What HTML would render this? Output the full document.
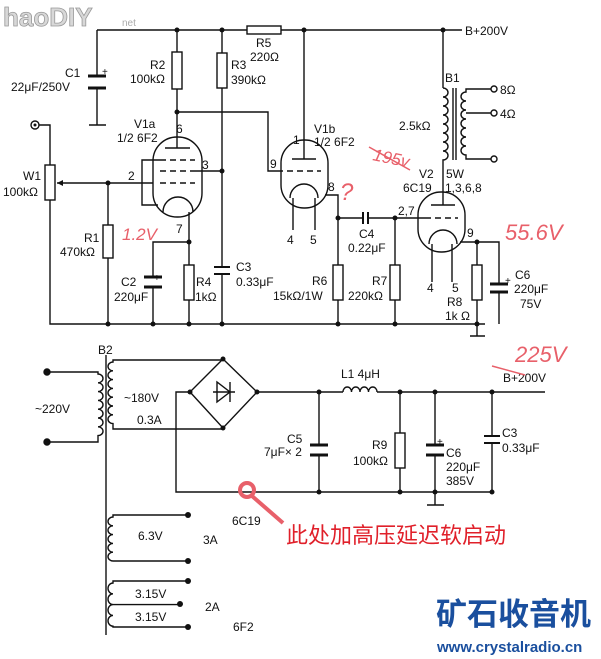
<!DOCTYPE html>
<html><head><meta charset="utf-8"><style>
html,body{margin:0;padding:0;background:#fff}
svg{display:block}
text{font-family:"Liberation Sans",Arial,sans-serif;font-size:12px;fill:#111}
.r{fill:#e8606a;font-style:italic;font-size:17px}
</style></head><body>
<svg width="601" height="659" viewBox="0 0 601 659" xmlns="http://www.w3.org/2000/svg">
<g stroke="#111" stroke-width="1.4" fill="none">
<!-- top rail -->
<path d="M97 30H247M281 30H462"/>
<rect x="247" y="26" width="34" height="8"/>
<!-- C1 -->
<path d="M97 30V76M97 88V125M89 125H106"/>
<path d="M88 76H106M88 88H106" stroke-width="3"/>
<!-- R2 R3 -->
<path d="M177 30V52M177 89V148"/>
<rect x="172" y="52" width="10" height="37"/>
<path d="M222 30V53M222 88V267M222 274V324"/>
<rect x="217" y="53" width="10" height="35"/>
<path d="M214 267H230M214 274H230" stroke-width="2"/>
<!-- to V1b grid -->
<path d="M177 112H268V171H283"/>
<!-- V1a -->
<rect x="153" y="137" width="49" height="80" rx="24"/>
<path d="M165 148H190"/>
<path d="M160 160H195M160 171H195M160 183H195" stroke-dasharray="6,4"/>
<path d="M195 171H222"/>
<path d="M160 160H142V205H158"/>
<path d="M163 212A15 15 0 0 1 193 212"/>
<path d="M189 212V242H153V277M153 287V324M189 242V265M189 300V324"/>
<path d="M144 277H162M144 287H162" stroke-width="3"/>
<rect x="184" y="265" width="10" height="35"/>
<!-- W1 input -->
<circle cx="35" cy="125" r="4"/>
<path d="M39 125H50V165M50 200V324H485"/>
<rect x="45" y="165" width="10" height="35"/>
<path d="M57 183H153"/>
<path d="M108 183V225M108 258V324"/>
<rect x="103" y="225" width="10" height="33"/>
<!-- V1b -->
<path d="M304 30V159"/>
<rect x="281" y="140" width="47" height="68" rx="23"/>
<path d="M292 159H316"/>
<path d="M287 171H321" stroke-dasharray="6,4"/>
<path d="M290 198A14 14 0 0 1 318 198"/>
<path d="M293 198V230M315 198V230"/>
<path d="M325 195H338V265M338 300V324M338 218H363M368 218H395V265M395 300V324M395 218H425"/>
<path d="M363 212V224M368 212V224" stroke-width="2"/>
<rect x="333" y="265" width="10" height="35"/>
<rect x="390" y="265" width="10" height="35"/>
<!-- V2 -->
<rect x="418" y="192" width="47" height="60" rx="23"/>
<path d="M431 205H455"/>
<path d="M425 218H458" stroke-dasharray="6,4"/>
<path d="M429 244A14 14 0 0 1 457 244"/>
<path d="M432 244V282M452 244V282"/>
<path d="M460 242H499V284M499 292V324M477 242V265M477 300V324"/>
<rect x="472" y="265" width="10" height="35"/>
<path d="M490 284H508M490 292H508" stroke-width="3"/>
<!-- B1 -->
<path d="M443 30V88"/>
<path d="M443 88a5 4.5 0 0 1 0 9a5 4.5 0 0 1 0 9a5 4.5 0 0 1 0 9a5 4.5 0 0 1 0 9a5 4.5 0 0 1 0 9a5 4.5 0 0 1 0 9a5 4.5 0 0 1 0 9a5 4.5 0 0 1 0 9V205"/>
<path d="M453 88V160M456 88V160"/>
<path d="M491 89H466V92a5 4.5 0 0 0 0 9a5 4.5 0 0 0 0 9a5 4.5 0 0 0 0 9a5 4.5 0 0 0 0 9a5 4.5 0 0 0 0 9a5 4.5 0 0 0 0 9a5 4.5 0 0 0 0 9V159H491M466 113H491"/>
<circle cx="494" cy="89" r="3"/><circle cx="494" cy="113" r="3"/><circle cx="494" cy="159" r="3"/>
<!-- ground at V2 bottom -->
<path d="M477 324V336M470 336H485" stroke-width="1.4"/>
<!-- lower: B2 -->
<circle cx="47" cy="372" r="3" fill="#111"/><circle cx="47" cy="442" r="3" fill="#111"/>
<path d="M47 372H98V374a5 4.4 0 0 1 0 8.8a5 4.4 0 0 1 0 8.8a5 4.4 0 0 1 0 8.8a5 4.4 0 0 1 0 8.8a5 4.4 0 0 1 0 8.8a5 4.4 0 0 1 0 8.8a5 4.4 0 0 1 0 8.8V442H47"/>
<path d="M106 355V635"/>
<path d="M223 360H113V362a5 4.4 0 0 0 0 8.8a5 4.4 0 0 0 0 8.8a5 4.4 0 0 0 0 8.8a5 4.4 0 0 0 0 8.8a5 4.4 0 0 0 0 8.8a5 4.4 0 0 0 0 8.8a5 4.4 0 0 0 0 8.8V429H223"/>
<path d="M223 359L257 392L223 428L190 392Z"/>
<path d="M213 392H235M217 382V402L230 392Z M230 382V402"/>
<path d="M190 392H176V492H492M257 392H343M377 392H545"/>
<path d="M343 392a4.25 5 0 0 1 8.5 0a4.25 5 0 0 1 8.5 0a4.25 5 0 0 1 8.5 0a4.25 5 0 0 1 8.5 0"/>
<path d="M319 392V445M319 455V492M400 392V433M400 468V492M435 392V445M435 455V505M427 505H444M492 392V436M492 443V492"/>
<path d="M310 445H328M310 455H328M426 445H444M426 455H444" stroke-width="3"/>
<path d="M484 436H500M484 443H500" stroke-width="2"/>
<rect x="395" y="433" width="10" height="35"/>
<!-- heater windings -->
<path d="M188 515H113V517a5 4.4 0 0 0 0 8.8a5 4.4 0 0 0 0 8.8a5 4.4 0 0 0 0 8.8a5 4.4 0 0 0 0 8.8a5 4.4 0 0 0 0 8.8V561H188"/>
<path d="M188 581H113V583a5 5.4 0 0 0 0 10.8a5 5.4 0 0 0 0 10.8H180M113 604.6a5 5.4 0 0 0 0 10.8a5 5.4 0 0 0 0 10.8V627H188"/>
</g>
<g fill="#111">
<circle cx="177" cy="30" r="2.5"/><circle cx="222" cy="30" r="2.5"/><circle cx="304" cy="30" r="2.5"/><circle cx="443" cy="30" r="2.5"/>
<circle cx="177" cy="112" r="2.5"/><circle cx="222" cy="171" r="2.5"/><circle cx="108" cy="183" r="2.5"/><circle cx="189" cy="242" r="2.5"/>
<circle cx="108" cy="324" r="2.5"/><circle cx="153" cy="324" r="2.5"/><circle cx="189" cy="324" r="2.5"/><circle cx="222" cy="324" r="2.5"/>
<circle cx="338" cy="324" r="2.5"/><circle cx="395" cy="324" r="2.5"/><circle cx="477" cy="324" r="2.5"/>
<circle cx="338" cy="218" r="2.5"/><circle cx="395" cy="218" r="2.5"/><circle cx="477" cy="242" r="2.5"/>
<path d="M57 183l6 -3v6z"/>
<circle cx="35" cy="125" r="1.5"/>
<circle cx="223" cy="359" r="2.5"/><circle cx="223" cy="428" r="2.5"/><circle cx="190" cy="392" r="2.5"/><circle cx="257" cy="392" r="2.5"/>
<circle cx="319" cy="392" r="2.5"/><circle cx="400" cy="392" r="2.5"/><circle cx="435" cy="392" r="2.5"/><circle cx="492" cy="392" r="2.5"/>
<circle cx="319" cy="492" r="2.5"/><circle cx="400" cy="492" r="2.5"/><circle cx="435" cy="492" r="2.5"/><circle cx="492" cy="492" r="2.5"/>
<circle cx="188" cy="515" r="3"/><circle cx="188" cy="561" r="3"/><circle cx="188" cy="581" r="3"/><circle cx="180" cy="604" r="3"/><circle cx="188" cy="627" r="3"/>
</g>
<!-- labels -->
<text x="3" y="26" style="font-size:26px;font-weight:bold;fill:#d8d8d8;stroke:#999;stroke-width:0.8">haoDIY</text>
<text x="122" y="26" style="font-size:10px;fill:#aaa">net</text>
<text x="65" y="77">C1</text><text x="11" y="91">22μF/250V</text>
<text x="102" y="75" style="font-size:10px">+</text>
<text x="150" y="69">R2</text><text x="130" y="83">100kΩ</text>
<text x="231" y="69">R3</text><text x="231" y="84">390kΩ</text>
<text x="256" y="47">R5</text><text x="250" y="61">220Ω</text>
<text x="134" y="128">V1a</text><text x="117" y="142">1/2 6F2</text>
<text x="176" y="133">6</text><text x="202" y="169">3</text><text x="128" y="180">2</text><text x="176" y="233">7</text>
<text x="23" y="180">W1</text><text x="3" y="196">100kΩ</text>
<text x="84" y="242">R1</text><text x="60" y="256">470kΩ</text>
<text x="121" y="286">C2</text><text x="114" y="301">220μF</text>
<text x="154" y="281" style="font-size:10px">+</text>
<text x="196" y="286">R4</text><text x="195" y="301">1kΩ</text>
<text x="236" y="271">C3</text><text x="236" y="286">0.33μF</text>
<text x="314" y="133">V1b</text><text x="314" y="146">1/2 6F2</text>
<text x="293" y="144">1</text><text x="270" y="168">9</text><text x="328" y="191">8</text>
<text x="287" y="244">4</text><text x="310" y="244">5</text>
<text x="359" y="238">C4</text><text x="348" y="252">0.22μF</text>
<text x="312" y="285">R6</text><text x="273" y="300">15kΩ/1W</text>
<text x="372" y="285">R7</text><text x="348" y="300">220kΩ</text>
<text x="465" y="35">B+200V</text>
<text x="445" y="82">B1</text>
<text x="399" y="130">2.5kΩ</text>
<text x="500" y="94">8Ω</text><text x="500" y="118">4Ω</text>
<text x="419" y="178">V2</text><text x="403" y="192">6C19</text>
<text x="446" y="178">5W</text><text x="445" y="192">1,3,6,8</text>
<text x="398" y="215">2,7</text>
<text x="467" y="237">9</text>
<text x="427" y="292">4</text><text x="452" y="292">5</text>
<text x="447" y="306">R8</text><text x="445" y="320">1k Ω</text>
<text x="515" y="279">C6</text><text x="514" y="293">220μF</text><text x="520" y="308">75V</text>
<text x="505" y="284" style="font-size:10px">+</text>
<!-- lower labels -->
<text x="98" y="354">B2</text>
<text x="35" y="413">~220V</text>
<text x="124" y="402">~180V</text><text x="137" y="424">0.3A</text>
<text x="341" y="378">L1 4μH</text>
<text x="503" y="382">B+200V</text>
<text x="287" y="443">C5</text><text x="264" y="456">7μF× 2</text>
<text x="372" y="449">R9</text><text x="353" y="465">100kΩ</text>
<text x="446" y="457">C6</text><text x="446" y="471">220μF</text><text x="446" y="485">385V</text>
<text x="437" y="445" style="font-size:10px">+</text>
<text x="502" y="437">C3</text><text x="502" y="452">0.33μF</text>
<text x="232" y="525">6C19</text>
<text x="138" y="540">6.3V</text><text x="203" y="544">3A</text>
<text x="135" y="598">3.15V</text><text x="135" y="621">3.15V</text>
<text x="205" y="611">2A</text><text x="233" y="631">6F2</text>
<!-- red annotations -->
<text class="r" x="122" y="240">1.2V</text>
<text class="r" x="372" y="160" transform="rotate(12 372 160)">195v</text>
<text class="r" x="340" y="200" style="font-size:24px">?</text>
<text class="r" x="505" y="240" style="font-size:22px">55.6V</text>
<text class="r" x="515" y="362" style="font-size:22px">225V</text>
<path d="M369 147L410 170M492 366L525 375" stroke="#e8606a" stroke-width="1.5" fill="none"/>
<circle cx="247" cy="490" r="7" fill="none" stroke="#e8606a" stroke-width="4"/>
<path d="M252 496L283 523" stroke="#e8606a" stroke-width="4"/>
<text x="286" y="543" style="font-family:'Liberation Sans','Noto Sans CJK SC',sans-serif;font-size:22px;fill:#e0202a">此处加高压延迟软启动</text>
<text x="436" y="625" style="font-family:'Liberation Sans','Noto Sans CJK SC',sans-serif;font-size:31px;font-weight:bold;fill:#1a4f9e">矿石收音机</text>
<text x="437" y="652" style="font-size:15px;font-weight:bold;fill:#1a4f9e">www.crystalradio.cn</text>
</svg>
</body></html>
